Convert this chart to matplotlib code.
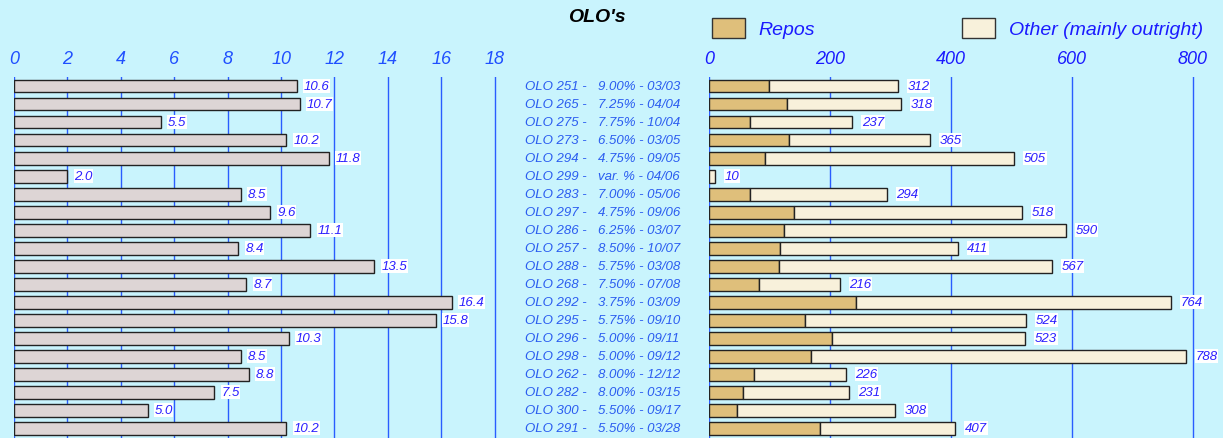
import matplotlib.pyplot as plt
from matplotlib.patches import Patch
from matplotlib.transforms import blended_transform_factory

names = ["OLO 251 -", "OLO 265 -", "OLO 275 -", "OLO 273 -", "OLO 294 -",
         "OLO 299 -", "OLO 283 -", "OLO 297 -", "OLO 286 -", "OLO 257 -",
         "OLO 288 -", "OLO 268 -", "OLO 292 -", "OLO 295 -", "OLO 296 -",
         "OLO 298 -", "OLO 262 -", "OLO 282 -", "OLO 300 -", "OLO 291 -"]
terms = ["9.00% - 03/03", "7.25% - 04/04", "7.75% - 10/04", "6.50% - 03/05",
         "4.75% - 09/05", "var. % - 04/06", "7.00% - 05/06", "4.75% - 09/06",
         "6.25% - 03/07", "8.50% - 10/07", "5.75% - 03/08", "7.50% - 07/08",
         "3.75% - 03/09", "5.75% - 09/10", "5.00% - 09/11", "5.00% - 09/12",
         "8.00% - 12/12", "8.00% - 03/15", "5.50% - 09/17", "5.50% - 03/28"]
left_vals = [10.6, 10.7, 5.5, 10.2, 11.8, 2.0, 8.5, 9.6, 11.1, 8.4,
             13.5, 8.7, 16.4, 15.8, 10.3, 8.5, 8.8, 7.5, 5.0, 10.2]
repos = [100, 129, 68, 133, 93, 0, 67, 141, 124, 117,
         116, 82, 243, 159, 204, 168, 74, 57, 47, 184]
totals = [312, 318, 237, 365, 505, 10, 294, 518, 590, 411,
          567, 216, 764, 524, 523, 788, 226, 231, 308, 407]
other = [t - r for t, r in zip(totals, repos)]

bg = "#c9f4fd"
grid_c = "#2a5cff"
tick_c = "#1f4fff"
val_c = "#2b1fff"
lab_c = "#2a5cf0"

W, H = 1223, 439
fig = plt.figure(figsize=(W / 100, H / 100), dpi=100, facecolor=bg)
plt.rcParams['font.family'] = ['Liberation Sans', 'DejaVu Sans']

top = 1 - 78 / H
ax1 = fig.add_axes([14 / W, 0, 486 / W, top])
ax2 = fig.add_axes([709 / W, 0, (W - 709) / W, top])

y = list(range(len(names)))

for ax in (ax1, ax2):
    ax.set_facecolor(bg)
    for s in ax.spines.values():
        s.set_visible(False)
    ax.set_ylim(19.55, -0.5)
    ax.set_yticks([])
    ax.xaxis.tick_top()
    ax.tick_params(axis='x', length=0, pad=7.5, labelsize=13, labelcolor=tick_c)
    ax.set_axisbelow(True)
    ax.grid(axis='x', color=grid_c, linewidth=1)

ax1.set_xlim(0, 18.2)
ax1.set_xticks(range(0, 19, 2))
ax1.set_xticklabels([str(v) for v in range(0, 19, 2)], fontstyle='italic')
ax1.barh(y, left_vals, height=0.72, color="#ddd5d5", edgecolor="#222222", linewidth=1)
for yi, v in zip(y, left_vals):
    ax1.annotate(f"{v:.1f}", (v, yi), xytext=(5, 0), textcoords='offset points',
                 va='center', ha='left', fontsize=9.5, fontstyle='italic', color=val_c,
                 bbox=dict(facecolor='white', edgecolor='none', pad=0.5))

ax2.set_xlim(0, 850)
ax2.set_xticks([0, 200, 400, 600, 800])
ax2.set_xticklabels(["0", "200", "400", "600", "800"], fontstyle='italic')
ax2.tick_params(axis='x', labelcolor="#1a1aff")
ax2.barh(y, repos, height=0.72, color="#dfbf7b", edgecolor="#222222", linewidth=1)
ax2.barh(y, other, left=repos, height=0.72, color="#f8f1db", edgecolor="#222222", linewidth=1)
for yi, t in zip(y, totals):
    ax2.annotate(str(t), (t, yi), xytext=(7, 0), textcoords='offset points',
                 va='center', ha='left', fontsize=9.5, fontstyle='italic', color=val_c,
                 bbox=dict(facecolor='white', edgecolor='none', pad=0.5))

tr = blended_transform_factory(fig.transFigure, ax2.transData)
for yi, n, t in zip(y, names, terms):
    fig.text(525 / W, yi, n, transform=tr, va='center', ha='left',
             fontsize=9.5, fontstyle='italic', color=lab_c)
    fig.text(598 / W, yi, t, transform=tr, va='center', ha='left',
             fontsize=9.5, fontstyle='italic', color=lab_c)

fig.text(597 / W, 1 - 18 / H, "OLO's", ha='center', va='center',
         fontsize=14, fontweight='bold', fontstyle='italic', color='black')

# legend: two separate entries placed like the original
legend_items = [("#dfbf7b", "Repos", 712), ("#f8f1db", "Other (mainly outright)", 962)]
for col, lab, xpx in legend_items:
    leg = fig.legend(handles=[Patch(facecolor=col, edgecolor="#333333", label=lab)],
                     loc='center left', bbox_to_anchor=(xpx / W, 1 - 29 / H),
                     frameon=False, fontsize=14, handlelength=1.7, handleheight=1.2,
                     handletextpad=0.7, borderpad=0, borderaxespad=0)
    for txt in leg.get_texts():
        txt.set_color("#1a1aff")
        txt.set_fontstyle('italic')

fig.savefig("out.png", dpi=100, facecolor=bg)
